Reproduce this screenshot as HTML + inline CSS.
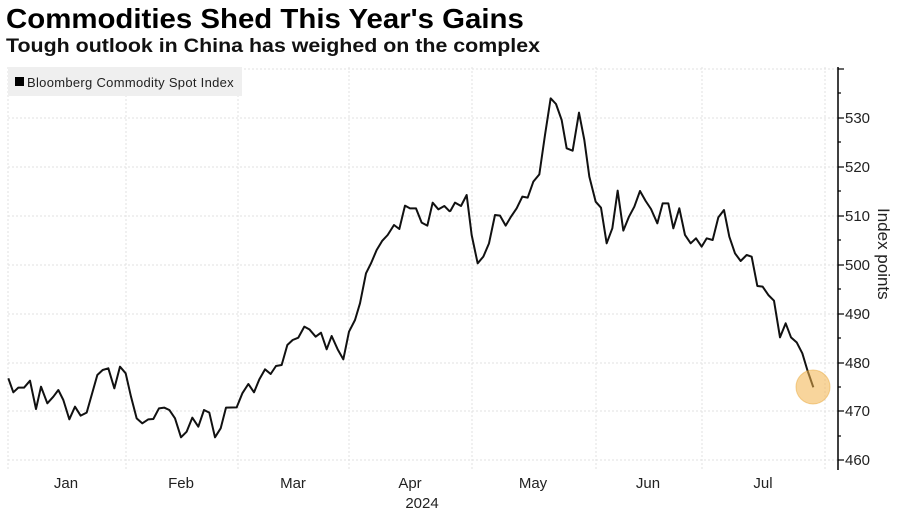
<!DOCTYPE html>
<html><head><meta charset="utf-8"><style>
body{margin:0;width:900px;height:510px;background:#fff;overflow:hidden;font-family:"Liberation Sans",sans-serif;}
.t{position:absolute;left:6px;top:3px;font-size:28px;font-weight:bold;color:#000;transform-origin:0 0;transform:scaleX(1.05);white-space:nowrap}
.s{position:absolute;left:6px;top:36px;font-size:19px;font-weight:bold;color:#111;transform-origin:0 0;transform:scaleX(1.125);white-space:nowrap}
</style></head><body>
<div class="t">Commodities Shed This Year's Gains</div>
<div class="s">Tough outlook in China has weighed on the complex</div>
<svg width="900" height="510" style="position:absolute;left:0;top:0" font-family="Liberation Sans, sans-serif">
<g stroke="#e2e2e2" stroke-width="1" stroke-dasharray="2,2">
<line x1="8" x2="838" y1="69" y2="69"/><line x1="8" x2="838" y1="118" y2="118"/><line x1="8" x2="838" y1="167" y2="167"/><line x1="8" x2="838" y1="216" y2="216"/><line x1="8" x2="838" y1="265" y2="265"/><line x1="8" x2="838" y1="314" y2="314"/><line x1="8" x2="838" y1="363" y2="363"/><line x1="8" x2="838" y1="411" y2="411"/><line x1="8" x2="838" y1="460" y2="460"/>
<line x1="8" x2="8" y1="67" y2="470"/><line x1="126" x2="126" y1="67" y2="470"/><line x1="238" x2="238" y1="67" y2="470"/><line x1="349" x2="349" y1="67" y2="470"/><line x1="472" x2="472" y1="67" y2="470"/><line x1="596" x2="596" y1="67" y2="470"/><line x1="702" x2="702" y1="67" y2="470"/><line x1="825" x2="825" y1="67" y2="470"/>
</g>
<rect x="8" y="67" width="234" height="29" fill="#efefef"/>
<rect x="15" y="77" width="9" height="9" fill="#000"/>
<text x="27" y="87" font-size="13" fill="#222" letter-spacing="0.3">Bloomberg Commodity Spot Index</text>
<g transform="translate(0,60) scale(0.33333)" fill="none" stroke="#111" stroke-width="6" stroke-linejoin="round">
<polyline points="25,955 40,997 55,983 72,983 90,962 108,1047 123,980 142,1030 160,1010 175,990 190,1020 208,1078 225,1040 242,1067 260,1058 292,945 308,930 325,925 343,985 360,920 377,940 393,1010 410,1075 427,1090 445,1078 460,1077 477,1045 493,1043 508,1050 525,1075 543,1132 560,1115 577,1073 595,1100 612,1050 628,1058 645,1132 662,1105 678,1043 710,1042 727,1000 745,972 762,997 778,958 795,928 812,942 828,918 845,915 862,855 878,840 895,833 913,800 928,808 947,830 963,818 980,868 995,828 1013,868 1030,898 1047,815 1065,780 1080,730 1098,640 1113,610 1130,570 1147,542 1163,525 1182,495 1198,507 1215,437 1230,445 1248,445 1265,488 1282,497 1298,428 1315,448 1333,438 1350,455"/>
<g transform="translate(1350,0)">
<polyline points="0,455 15,428 33,438 50,405 65,525 83,610 100,590 117,550 135,465 150,467 167,497 183,470 200,445 217,410 233,413 250,365 268,343 285,225 302,115 318,132 335,180 350,265 368,272 387,158 403,240 418,350 437,425 453,443 470,550 487,505 503,392 520,512 537,470 553,440 570,393 587,423 603,447 622,490 638,430 655,430 670,505 688,445 705,525 722,550 738,535 755,560 770,535 788,540 805,472 822,450 838,530 855,580 872,603 890,585 905,590 922,678 938,680 955,705 972,722 990,832 1007,790 1023,832 1040,847 1057,880 1072,930 1090,982"/>
</g></g>
<circle cx="813" cy="387" r="17" fill="#f2b34a" fill-opacity="0.55" stroke="#e8a83a" stroke-opacity="0.5"/>
<line x1="838" x2="838" y1="67" y2="470" stroke="#000" stroke-width="1.5"/>
<g stroke="#000" stroke-width="1.2">
<line x1="838" x2="844" y1="69" y2="69"/><line x1="838" x2="844" y1="118" y2="118"/><line x1="838" x2="844" y1="167" y2="167"/><line x1="838" x2="844" y1="216" y2="216"/><line x1="838" x2="844" y1="265" y2="265"/><line x1="838" x2="844" y1="314" y2="314"/><line x1="838" x2="844" y1="363" y2="363"/><line x1="838" x2="844" y1="411" y2="411"/><line x1="838" x2="844" y1="460" y2="460"/>
<line x1="838" x2="841" y1="93" y2="93"/><line x1="838" x2="841" y1="142" y2="142"/><line x1="838" x2="841" y1="191" y2="191"/><line x1="838" x2="841" y1="240" y2="240"/><line x1="838" x2="841" y1="289" y2="289"/><line x1="838" x2="841" y1="338" y2="338"/><line x1="838" x2="841" y1="387" y2="387"/><line x1="838" x2="841" y1="436" y2="436"/>
</g>
<g font-size="15" fill="#222">
<text x="845" y="123">530</text><text x="845" y="172">520</text><text x="845" y="221">510</text><text x="845" y="270">500</text><text x="845" y="319">490</text><text x="845" y="368">480</text><text x="845" y="416">470</text><text x="845" y="465">460</text>
</g>
<text transform="translate(878,208) rotate(90)" font-size="17" fill="#222">Index points</text>
<g font-size="15" fill="#222" text-anchor="middle">
<text x="66" y="488">Jan</text><text x="181" y="488">Feb</text><text x="293" y="488">Mar</text><text x="410" y="488">Apr</text><text x="533" y="488">May</text><text x="648" y="488">Jun</text><text x="763" y="488">Jul</text><text x="422" y="508">2024</text>
</g>
</svg>
</body></html>
